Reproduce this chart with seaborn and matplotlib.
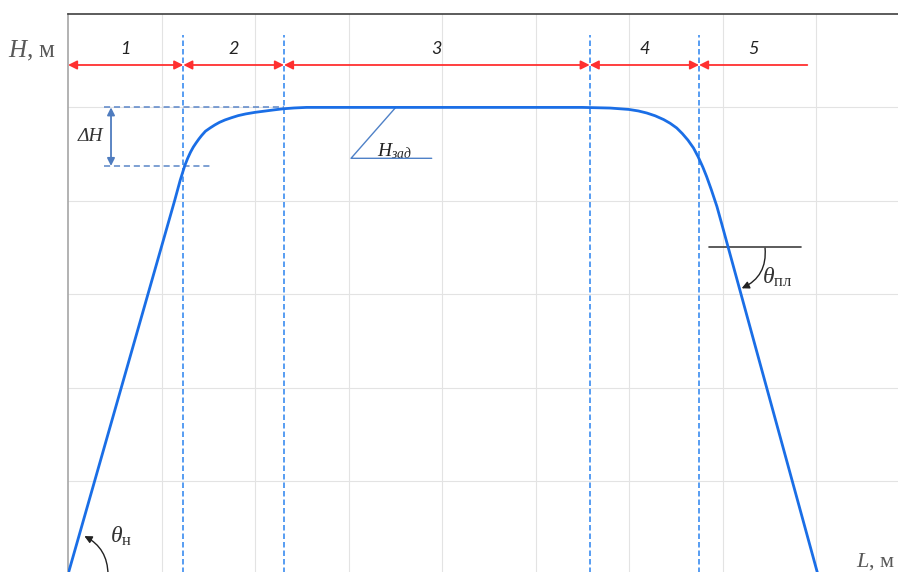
import matplotlib
matplotlib.use("Agg")
import matplotlib.pyplot as plt
import pandas as pd
import seaborn as sns

# Flight profile: horizontal distance L vs. altitude H (grid units)
L_points = [0.0, 1.14, 1.17, 1.20, 1.225, 1.25, 1.28, 1.31, 1.34, 1.37, 1.40, 1.43, 1.47,
            1.52, 1.57, 1.62, 1.68, 1.75, 1.82, 1.90, 2.00, 2.10, 2.20, 2.30, 2.42, 2.55,
            5.50, 5.80, 6.00, 6.10, 6.19, 6.28, 6.37, 6.44, 6.51, 6.57, 6.63, 6.69, 6.74,
            6.79, 6.83, 6.88, 6.94, 6.99, 8.02]
H_points = [0.0, 4.00, 4.11, 4.22, 4.30, 4.38, 4.455, 4.52, 4.575, 4.62, 4.662, 4.70, 4.745,
            4.78, 4.812, 4.84, 4.866, 4.89, 4.912, 4.93, 4.947, 4.96, 4.973, 4.985, 4.994, 5.0,
            5.0, 4.993, 4.978, 4.962, 4.94, 4.91, 4.87, 4.83, 4.78, 4.72, 4.65, 4.565, 4.47,
            4.36, 4.26, 4.12, 3.94, 3.76, 0.0]

# Boundaries of flight phases 1..5
phase_bounds = [0.0, 1.233, 2.31, 5.58, 6.749, 7.907]
phase_labels = ["1", "2", "3", "4", "5"]

H_set = 5.0      # target altitude H_зад
dH_low = 4.373   # lower edge of the ΔH band

sns.set_theme(style="whitegrid")
plt.rcParams["font.family"] = ["Liberation Serif", "DejaVu Serif"]
plt.rcParams["mathtext.fontset"] = "custom"
plt.rcParams["mathtext.rm"] = "Liberation Serif"
plt.rcParams["mathtext.it"] = "Liberation Serif:italic"

fig = plt.figure(figsize=(8.98, 5.72), dpi=100)
ax = fig.add_axes([68 / 898, -2.4 / 572, 830 / 898, 560.4 / 572])
ax.set_xlim(0, 830 / 93.5)
ax.set_ylim(0, 6)
ax.set_xticks(range(1, 9))
ax.set_yticks(range(1, 6))
ax.set_xticklabels([])
ax.set_yticklabels([])
ax.tick_params(length=0)
ax.grid(True, color="#e3e3e3", lw=0.8)
for side in ("right", "bottom"):
    ax.spines[side].set_visible(False)
ax.spines["left"].set_color("#a6a6a6")
ax.spines["left"].set_linewidth(1.2)
ax.spines["top"].set_color("#404040")
ax.spines["top"].set_linewidth(1.2)

# trajectory
df = pd.DataFrame({"L": L_points, "H": H_points})
sns.lineplot(data=df, x="L", y="H", sort=False, estimator=None, ax=ax,
             color="#1a6ee6", lw=2.0, zorder=5)
ax.set_xlabel("")
ax.set_ylabel("")

# phase boundaries
arrow_y = 5.454
for xb in phase_bounds[1:-1]:
    ax.plot([xb, xb], [0, 5.78], color="#3b8cf0", lw=1.2,
            ls=(0, (3.3, 1.8)), zorder=3)

# phase arrows and numbers
for i, lab in enumerate(phase_labels):
    x0, x1 = phase_bounds[i], phase_bounds[i + 1]
    style = "<|-|>" if i < len(phase_labels) - 1 else "<|-"
    ax.annotate("", xy=(x1, arrow_y), xytext=(x0, arrow_y),
                arrowprops=dict(arrowstyle=style, color="#ff3030", lw=1.3,
                                shrinkA=0, shrinkB=0, mutation_scale=13),
                annotation_clip=False, zorder=6)
    ax.text((x0 + x1) / 2, 5.63, lab, ha="center", va="center",
            fontsize=13, fontstyle="italic", family="Lato", color="#222222")

# ΔH band
band_col = "#5a86c8"
ax.plot([0.385, 2.31], [H_set, H_set], color=band_col, lw=1.1, ls=(0, (4, 2.5)), zorder=2)
ax.plot([0.385, 1.519], [dH_low, dH_low], color=band_col, lw=1.1, ls=(0, (4, 2.5)), zorder=2)
ax.annotate("", xy=(0.46, dH_low), xytext=(0.46, H_set),
            arrowprops=dict(arrowstyle="<|-|>", color="#4f7cbf", lw=1.3,
                            shrinkA=0, shrinkB=0, mutation_scale=11))
ax.text(0.235, (H_set + dH_low) / 2, "ΔH", ha="center", va="center",
        fontsize=14, fontstyle="italic", color="#333333")

# H_зад leader
lead_col = "#4f81c7"
ax.plot([3.505, 3.027, 3.89], [H_set, 4.455, 4.455], color=lead_col, lw=1.0, zorder=4)
ax.text(3.30, 4.475, r"$H_{зад}$", ha="left", va="baseline", fontsize=14, color="#222222")

# descent angle θпл
ax.plot([6.859, 7.843], [3.509, 3.509], color="#404040", lw=1.2, zorder=4)
ax.annotate("", xy=(7.205, 3.063), xytext=(7.455, 3.495),
            arrowprops=dict(arrowstyle="-|>", color="#222222", lw=1.0,
                            connectionstyle="arc3,rad=-0.35",
                            shrinkA=0, shrinkB=0, mutation_scale=11))
ax.text(7.42, 3.11, r"$\theta_{\mathrm{пл}}$", ha="left", va="baseline",
        fontsize=17, color="#333333")

# climb angle θн
ax.annotate("", xy=(0.175, 0.41), xytext=(0.428, 0.0),
            arrowprops=dict(arrowstyle="-|>", color="#222222", lw=1.0,
                            connectionstyle="arc3,rad=0.3",
                            shrinkA=0, shrinkB=0, mutation_scale=11),
            annotation_clip=False)
ax.text(0.45, 0.34, r"$\theta_{\mathrm{н}}$", ha="left", va="baseline",
        fontsize=17, color="#333333")

# axis captions
fig.text(8 / 898, 1 - 57 / 572, r"$H$, м", ha="left", va="baseline",
         fontsize=18, color="#595959")
fig.text(856 / 898, 1 - 567 / 572, r"$L$, м", ha="left", va="baseline",
         fontsize=16, color="#595959")

fig.savefig("out.png", dpi=100)
